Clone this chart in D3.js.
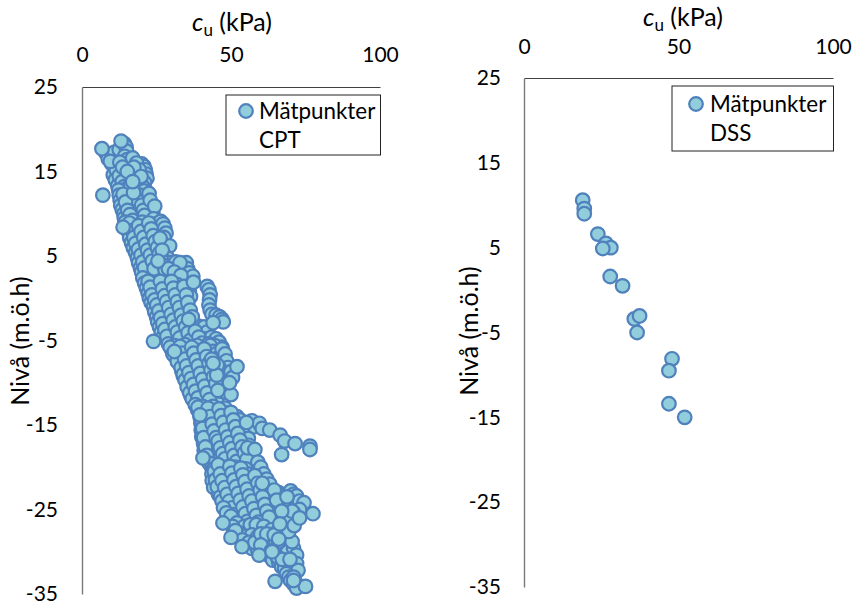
<!DOCTYPE html>
<html><head><meta charset="utf-8">
<script src="https://cdn.jsdelivr.net/npm/d3@7"></script>
<style>html,body{margin:0;background:#fff}svg{display:block}text{font-family:Lato,sans-serif;fill:#000}</style>
</head><body><div id="c"></div>
<script>
const xTicks=[0,50,100];
const yTicks=[25,15,5,-5,-15,-25,-35];
const xTitle="u";
const yTitle="Nivå (m.ö.h)";
const legendName="Mätpunkter";
const cptZone1=[[8,17.2],[8.8,16.5],[10,15.9],[10.5,14.6],[11.2,14],[12,13.3],[11.5,15.2],[11,17.3],[12.5,17.6],[14.2,18.3],[14.8,17.9],[15,17.4],[14.3,16.8],[15.2,16.4],[16,16],[15.5,15.2],[14.6,14.8],[13.3,14.7],[12.5,14.5],[13.5,13.8],[14.2,13.2],[15.2,13],[16.5,14.8],[17.5,14.4],[18.2,14],[19,13.4],[18,13],[20,15.9],[20.8,15.6],[21.2,15.2],[21.5,14.7],[21.8,14.2],[21,13.7],[20.4,13.2],[20.8,12.7],[21,12],[21.6,11.5],[22.2,11],[23,10.5],[23.8,10],[12.3,12.8],[12.5,12.2],[12.8,11.6],[13,11],[13.5,10.5],[14,10],[14.2,9.5],[15.5,12.4],[16.2,11.8],[16.8,11.2],[17.5,10.6],[18.2,10],[19,9.5],[19.5,12.2],[18.8,11.5],[20,11],[20.6,10.4],[21,9.8],[9.5,16.2],[12.7,16.1],[13.6,15.5],[17,16.6],[18.3,16],[19.2,15.2],[17.4,15.5],[16.4,13.4],[13.8,12.3],[14.6,11.4],[15.3,10.4],[16.1,9.9],[17.3,12.5],[19.8,14.4],[22.5,12.4],[22.9,11.6],[24.4,10.9]];
const cptZone2=[[14.5,9],[15,8.4],[15.6,7.8],[16,7.2],[16.6,6.6],[17.2,6],[18,5.4],[18.6,4.8],[19,4.2],[19.6,3.6],[20,3.1],[17,9.2],[17.6,8.6],[18.2,8],[18.8,7.4],[19.4,6.8],[20,6.2],[20.6,5.6],[21.2,5],[21.8,4.4],[22.4,3.8],[23,3.2],[20.2,9],[20.8,8.4],[21.4,7.8],[22,7.2],[22.6,6.6],[23.2,6],[23.8,5.4],[24.4,4.8],[25,4.2],[25.6,3.6],[26.2,3],[24,9.4],[24.6,8.8],[25.2,8.4],[25.8,7.8],[26.4,9.1],[27.2,8.8],[27.8,8.3],[28.2,7.7],[27.5,7.2],[26.8,6.6],[27.4,6],[28,5.4],[29.4,6.2],[28.6,4.8],[29.4,4.2],[30.4,3.8],[31.5,4.3],[32,3.6],[32.6,3],[34,4],[35,4.2],[35.4,3.5],[34.4,2.9],[36,3],[37.2,2.6],[30,2.8],[28,2.6],[22.6,2.4],[15.9,8.9],[16.8,8],[17.4,7.2],[18,6.5],[18.9,5.8],[19.8,5.1],[20.4,4.3],[21,3.6],[19,8.6],[19.8,7.9],[20.7,7.2],[21.4,6.4],[22,5.7],[22.9,5.1],[23.6,4.4],[24.2,3.5],[22.4,8.9],[23.2,8.2],[23.9,7.4],[24.6,6.7],[25.3,6],[25.9,5.3],[26.6,4.6],[27.3,3.9],[27.9,3.3],[26.2,7.1],[26.9,5.7],[32.9,4.2],[29,3.5],[31,3.1],[33.2,2.7]];
const cptZone3=[[20.4,2.4],[21,1.8],[21.6,1.2],[22.2,.6],[22.6,0],[23.2,-.5],[24,-1],[24.4,-1.6],[25,-2.2],[25.4,-2.8],[26,-3.4],[26.6,-4],[27.2,-4.6],[24.5,1.8],[25,1.2],[25.6,.6],[26.2,0],[26.8,-.6],[27.4,-1.2],[28,-1.8],[28.6,-2.4],[29.2,-3],[29.8,-3.6],[30.4,-4.2],[31,-4.8],[28,1.8],[28.6,1.2],[29.2,.6],[29.8,0],[30.4,-.6],[31,-1.2],[31.6,-1.8],[32.2,-2.4],[32.8,-3],[33.4,-3.6],[34,-4.2],[34.6,-4.8],[32,1.6],[32.6,1],[33,.5],[33.4,-.1],[34,-.7],[34.6,-1.3],[35,-1.9],[35.6,-2.5],[36.2,-3.1],[37,-3.7],[37.6,-4.3],[38.2,-4.9],[36,.8],[36.4,.2],[37,-3],[39,-3.3],[40,-3.9],[41,-3.4],[42,-4],[41,-4.8],[43.5,-4.6],[45,-4.8],[46,-5.2],[47,-5.8],[42,1.4],[42.6,1],[43,.4],[42.8,-.2],[42.6,-.8],[43,-1.4],[43.6,-1.9],[45,-2],[46.2,-2.2],[47,-2.5],[47.4,-2.8],[22.2,2],[22.9,1.3],[23.5,.4],[24.4,-.2],[25.1,-.8],[25.8,-1.5],[26.4,-2.3],[27.1,-3],[27.8,-3.7],[28.5,-4.5],[26.3,2],[27,1.1],[27.7,.3],[28.4,-.4],[29.1,-1.1],[29.9,-1.9],[30.6,-2.6],[31.3,-3.4],[32,-4],[32.8,-4.7],[30,2],[30.7,1.2],[31.3,.4],[32,-.4],[32.7,-1.1],[33.3,-2],[34,-2.7],[34.8,-3.4],[35.6,-4.1],[36.3,-5],[34.2,1.4],[35,.4],[35.5,-.5],[36.3,-1.4],[37,-2.2],[38,-3.9],[39.2,-4.6],[40.3,-5.3],[42.5,-5.4],[44.5,-5.6]];
const cptZone4=[[29,-5.4],[30,-6],[31,-6.8],[32.5,-7.4],[33,-8],[33.5,-8.6],[34,-9.2],[35,-9.8],[35.5,-10.4],[36,-11],[36.6,-11.6],[37.5,-12],[31,-5.6],[31.8,-6.2],[32.4,-6.8],[33,-7.4],[33.6,-8],[34.2,-8.6],[34.8,-9.2],[35.4,-9.8],[36,-10.4],[36.6,-11],[37.2,-11.6],[37.8,-12.2],[34.6,-5.5],[35.2,-6.1],[35.8,-6.7],[36.4,-7.3],[37,-7.9],[37.6,-8.5],[38.2,-9.1],[38.8,-9.7],[39.4,-10.3],[40,-10.9],[40.6,-11.5],[41.2,-12.1],[38.6,-5.6],[39.2,-6.2],[39.8,-6.8],[40.4,-7.4],[41,-8],[41.6,-8.6],[42.2,-9.2],[42.8,-9.8],[43.4,-10.4],[44,-11],[44.6,-11.6],[45.2,-12.2],[43,-5.6],[44,-6.3],[45,-6.6],[46,-7],[47,-6],[48,-6.6],[48.5,-7.4],[49,-8.2],[46,-8.2],[47,-8.8],[48,-9.4],[49,-10],[47,-10.3],[46.6,-11],[48,-11.1],[50,-8.7],[50.5,-9.4],[29.6,-5.8],[30.5,-6.6],[32,-7.5],[33.3,-8.2],[34,-9],[34.6,-9.7],[35.3,-10.5],[36.2,-11.2],[37,-11.9],[32.9,-5.7],[33.6,-6.5],[34.4,-7.2],[35.1,-8],[35.9,-8.8],[36.6,-9.5],[37.4,-10.2],[38.1,-11],[38.9,-11.8],[36.8,-5.8],[37.5,-6.5],[38.3,-7.3],[39,-8],[39.7,-8.9],[40.5,-9.6],[41.2,-10.4],[42,-11.2],[42.8,-12],[41,-6],[41.8,-6.9],[42.6,-7.7],[43.3,-8.5],[44.1,-9.3],[44.9,-10.1],[45.6,-10.9],[43.5,-7.2],[45.4,-7.9],[45.2,-9.1]];
const cptZone5=[[38,-12.6],[38.8,-13.2],[39.6,-14],[39.9,-14.8],[40,-15.6],[40.2,-16.4],[40.8,-17.2],[41,-18],[41.2,-18.6],[40.4,-12.8],[41,-13.4],[41.6,-14],[42.2,-14.6],[42.8,-15.2],[43.4,-15.8],[44,-16.4],[44.6,-17],[45.2,-17.6],[45.8,-18.2],[46.4,-18.8],[47,-19.4],[44,-12.8],[44.6,-13.4],[45.2,-14],[45.8,-14.6],[46.4,-15.2],[47,-15.8],[47.6,-16.4],[48.2,-17],[48.8,-17.6],[49.4,-18.2],[50,-18.8],[50.6,-19.4],[48,-13],[48.6,-13.6],[49.2,-14.2],[49.8,-14.8],[50.4,-15.4],[51,-16],[51.6,-16.6],[52.2,-17.2],[52.8,-17.8],[53.4,-18.4],[54,-19],[54.6,-19.6],[52,-14],[53,-14.4],[53.5,-15],[54,-15.6],[55,-16],[55.8,-16.6],[56,-17.4],[56.4,-18.2],[57,-18.8],[57.8,-19.4],[57,-14.5],[58,-15.2],[59.5,-14.8],[60.5,-15.4],[63,-15.6],[66.5,-16.2],[68,-16.9],[71.5,-17.2],[76.5,-17.5],[76.5,-17.9],[67,-18.5],[38.9,-12.9],[39.9,-14.3],[40.5,-15.4],[40.8,-16.5],[41.4,-17.6],[41.9,-18.6],[42.3,-13],[43,-14],[43.7,-14.9],[44.3,-15.7],[45,-16.5],[45.7,-16.9],[46.4,-17.7],[47.2,-18.4],[48,-19],[46,-13.1],[46.7,-13.9],[47.4,-14.7],[48.2,-15.6],[48.9,-16.4],[49.6,-17.1],[50.3,-17.8],[51,-18.6],[51.9,-19.3],[50,-13.5],[50.8,-14.4],[51.5,-15.2],[52.3,-16],[53,-16.8],[53.7,-17.6],[54.5,-18.3],[55.3,-19.1],[55.2,-14.7],[55.6,-17.7],[58,-17.9],[59,-19.4]];
const cptZone6=[[43.5,-20],[43.6,-20.8],[43.7,-21.6],[44.2,-22.4],[45.8,-23.2],[42.6,-19.5],[43.6,-19.6],[44.2,-20.2],[44.8,-20.8],[45.4,-21.4],[46,-22],[46.6,-22.6],[47.2,-23.2],[47.8,-23.8],[48.4,-24.4],[49,-25],[47.6,-20],[48.2,-20.6],[48.8,-21.2],[49.4,-21.8],[50,-22.4],[50.6,-23],[51.2,-23.6],[51.8,-24.2],[52.4,-24.8],[53,-25.4],[53.6,-26],[51.4,-20],[52,-20.6],[52.6,-21.2],[53.2,-21.8],[53.8,-22.4],[54.4,-23],[55,-23.6],[55.6,-24.2],[56.2,-24.8],[56.8,-25.4],[57.4,-26],[55,-20.2],[55.6,-20.8],[56.2,-21.4],[56.8,-22],[57.4,-22.6],[58,-23.2],[58.6,-23.8],[59.2,-24.4],[59.8,-25],[60.4,-25.6],[61,-26.2],[59,-20.4],[60,-20],[61,-20.8],[62,-21.4],[63,-22],[62,-23.2],[63,-23.8],[64,-24.4],[65,-25],[66,-23],[67,-23.4],[68,-24],[69,-25],[70,-22.8],[71,-23.2],[72,-23.4],[73,-24],[74.5,-24.2],[73,-25],[71,-25.4],[68.5,-26],[65,-25.6],[63,-26.5],[70.5,-25.2],[44.4,-20.5],[44.8,-21.5],[45.4,-22.3],[46.5,-23.5],[47,-24],[45.7,-19.7],[46.4,-20.8],[47,-21.6],[47.9,-22.4],[48.7,-23.2],[49.5,-24],[50.4,-24.8],[51,-25.6],[49.6,-19.9],[50.3,-20.7],[51,-21.5],[51.7,-22.3],[52.4,-23.1],[53.1,-23.9],[54,-24.7],[54.8,-25.5],[55.5,-26.4],[53.3,-20.1],[54,-20.9],[54.7,-21.7],[55.4,-22.6],[56.1,-23.4],[57,-24],[57.7,-24.9],[58.5,-25.7],[59.2,-26.5],[58,-21],[59,-21.9],[59.8,-22.7],[60.6,-23.5],[61.3,-24.4],[62,-25.2],[62.8,-25.9],[64.5,-22.7],[60.5,-21.9],[65.3,-23.9],[67,-25.2]];
const cptZone7=[[47.5,-24.8],[48.5,-25.4],[50,-25.8],[52,-26.6],[54.5,-27],[56.5,-26.8],[58.5,-26.8],[61,-27],[63.6,-27.4],[66,-27.4],[67.5,-27.8],[68.6,-28.4],[50.5,-27],[53,-27.8],[55,-28.2],[57,-28],[59,-28.2],[61,-28.6],[63,-28.8],[65,-29],[67,-29.4],[68,-29],[55,-29],[57,-29.6],[59,-29.8],[61,-29.6],[62.5,-30.4],[64,-31],[66,-30],[68,-30.6],[69,-30],[71,-29.6],[72,-30.4],[66,-31.2],[67,-31.8],[68,-32],[70,-31.8],[72,-31.4],[72.5,-32.2],[68.6,-32.6],[69.4,-33],[70,-33.4],[71,-33],[71,-33.8],[71.6,-33.6],[51.5,-27.5],[53.8,-28.6],[56,-28.9],[58,-28.9],[60,-27.9],[62,-27.9],[64.5,-28],[66,-28.8],[60,-29.2],[63.5,-29.9],[65.5,-30.6],[67.2,-30.9],[69.8,-30.9],[70.5,-28.8],[69.4,-27.6],[71.2,-26.9]];
const cptOnTop=[[6.7,17.7],[13.1,18.6],[7,12.2],[13.8,8.4],[15.2,15],[17,13.8],[25.5,4.4],[37.4,1.9],[44,-2.9],[24,-5.1],[31,-6.3],[35.8,-2.5],[44,-7.7],[52,-8.1],[50,-11.4],[49.5,-10],[40.6,-18.9],[39.6,-13.8],[68.8,-23.5],[77.5,-25.5],[73,-26],[66.4,-26.7],[47.3,-26.6],[50,-28.3],[53.7,-29.4],[59.4,-30.4],[63.8,-30],[66,-28.5],[64.8,-33.5],[72,-34.3],[75,-34.1],[71,-33.4]];
const dssCu=[19.0,19.5,19.5,23.9,26.5,28.1,25.5,27.9,31.9,35.7,37.4,36.6,47.9,46.9,46.9,52.0];
const dssLevel=[10.6,9.6,9.0,6.6,5.5,5.0,4.9,1.6,0.5,-3.4,-3.05,-5.0,-8.1,-9.5,-13.4,-15.0];

const cptData=[].concat(cptZone1,cptZone2,cptZone3,cptZone4,cptZone5,cptZone6,cptZone7,cptOnTop).map(d=>({cu:d[0],level:d[1]}));
const dssData=dssCu.map((c,i)=>({cu:c,level:dssLevel[i]}));

const tickFs=21, titleFs=25, legFs=22.4, fill="#92cddc", stroke="#4f81bd";
const svg=d3.select("#c").append("svg").attr("width",855).attr("height",607);

function panel(o){
  const x=d3.scaleLinear().domain([0,100]).range([o.x0,o.x1]);
  const y=d3.scaleLinear().domain([25,-35]).range([o.y0,o.y1]);
  const gx=svg.append("g").attr("transform",`translate(0,${o.y0})`)
    .call(d3.axisTop(x).tickValues(xTicks).tickSize(0).tickPadding(o.xPad));
  const gy=svg.append("g").attr("transform",`translate(${o.x0},0)`)
    .call(d3.axisLeft(y).tickValues(yTicks).tickFormat(d=>String(d)).tickSize(0).tickPadding(o.yPad));
  gx.select(".domain").attr("stroke","#404040").attr("stroke-width",1.2);
  gy.select(".domain").attr("stroke","#7a7a7a").attr("stroke-width",1.4);
  svg.selectAll("g text").style("font-family","Lato,sans-serif").style("font-size",tickFs+"px").attr("fill","#000");
  svg.append("g").selectAll("circle").data(o.data).join("circle")
    .attr("cx",d=>x(d.cu)).attr("cy",d=>y(d.level)).attr("r",o.r)
    .attr("fill",fill).attr("stroke",stroke).attr("stroke-width",o.sw);
  const t=svg.append("text").attr("x",o.titleX).attr("y",o.titleY).attr("font-size",titleFs+"px");
  t.append("tspan").attr("font-style","italic").text("c");
  t.append("tspan").attr("dy",5).attr("font-size","17px").text(xTitle);
  t.append("tspan").attr("dy",-5).text(" (kPa)");
  svg.append("text").attr("transform",`translate(${o.yTitleX},${o.yTitleY}) rotate(-90)`)
    .attr("text-anchor","middle").attr("font-size",titleFs+"px").text(yTitle);
  const l=o.legend;
  svg.append("rect").attr("x",l.x).attr("y",l.y).attr("width",l.w).attr("height",l.h)
    .attr("fill","#fff").attr("stroke","#222").attr("stroke-width",1);
  svg.append("circle").attr("cx",l.mx).attr("cy",l.my).attr("r",o.r)
    .attr("fill",fill).attr("stroke",stroke).attr("stroke-width",o.sw);
  svg.append("text").attr("x",l.tx).attr("y",l.b1).attr("font-size",legFs+"px").text(legendName);
  svg.append("text").attr("x",l.tx).attr("y",l.b2).attr("font-size",legFs+"px").text(l.label);
}
panel({x0:82,x1:380,y0:87,y1:594,xPad:25,yPad:24,r:6.8,sw:2.2,data:cptData,titleX:192,titleY:31,yTitleX:29,yTitleY:341,
  legend:{x:226,y:95,w:154.5,h:60,mx:246,my:111,tx:259,b1:119,b2:148,label:"CPT"}});
panel({x0:524,x1:833,y0:78,y1:587,xPad:24,yPad:23,r:6.8,sw:2.2,data:dssData,titleX:643,titleY:26,yTitleX:478,yTitleY:331,
  legend:{x:672,y:86,w:161.5,h:65,mx:696,my:104,tx:710,b1:112,b2:141,label:"DSS"}});
</script></body></html>
